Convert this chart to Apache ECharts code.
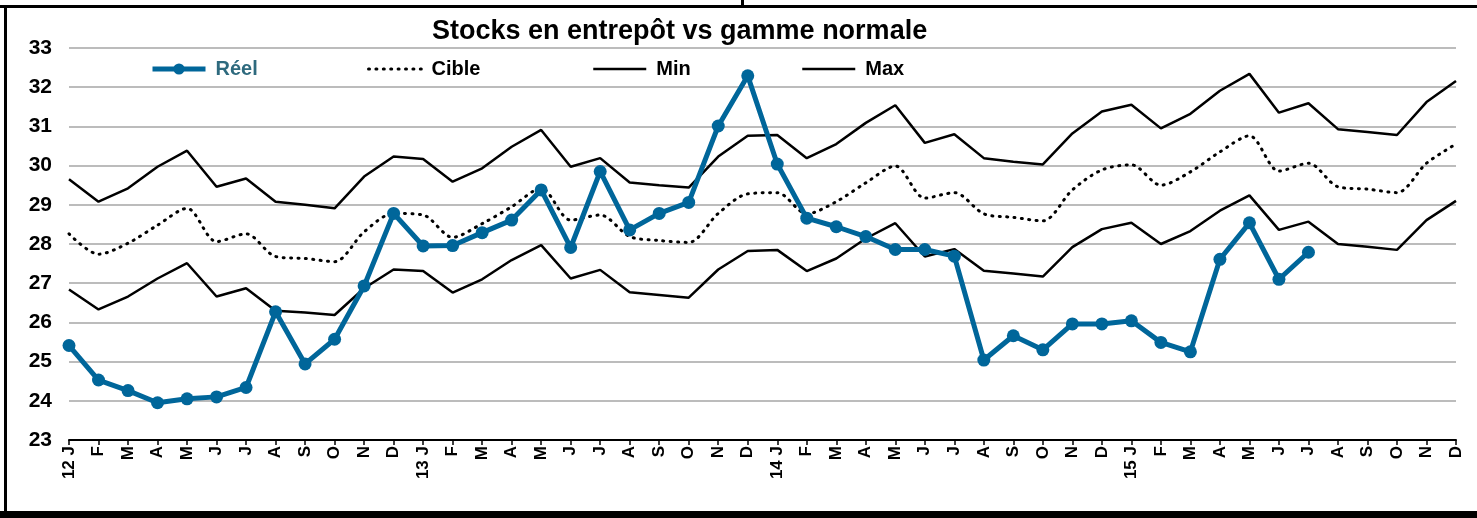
<!DOCTYPE html>
<html lang="fr">
<head>
    <meta charset="UTF-8">
    <title>Stocks en entrepôt vs gamme normale</title>
    <script src="https://cdn.jsdelivr.net/npm/echarts@6/dist/echarts.min.js"></script>
    <style>
        html, body { margin: 0; padding: 0; background: #fff; }
        #chart { width: 1477px; height: 518px; }
    </style>
</head>
<body>
    <div id="chart"></div>

    <script>
        const months = ['12 J', 'F', 'M', 'A', 'M', 'J', 'J', 'A', 'S', 'O', 'N', 'D',
                        '13 J', 'F', 'M', 'A', 'M', 'J', 'J', 'A', 'S', 'O', 'N', 'D',
                        '14 J', 'F', 'M', 'A', 'M', 'J', 'J', 'A', 'S', 'O', 'N', 'D',
                        '15 J', 'F', 'M', 'A', 'M', 'J', 'J', 'A', 'S', 'O', 'N', 'D'];

        const reel = [25.41, 24.53, 24.26, 23.95, 24.05, 24.10, 24.34, 26.27, 24.94, 25.57, 26.93, 28.78,
                      27.95, 27.96, 28.29, 28.61, 29.38, 27.91, 29.85, 28.36, 28.78, 29.06, 31.01, 32.29,
                      30.04, 28.66, 28.44, 28.19, 27.86, 27.86, 27.69, 25.04, 25.66, 25.30, 25.96, 25.96,
                      26.04, 25.49, 25.25, 27.61, 28.54, 27.10, 27.79, null, null, null, null, null];

        const cible = [28.26, 27.74, 28.02, 28.48, 28.91, 28.06, 28.26, 27.68, 27.63, 27.55, 28.31, 28.78,
                       28.74, 28.17, 28.52, 28.95, 29.42, 28.61, 28.74, 28.19, 28.09, 28.04, 28.78, 29.28,
                       29.31, 28.77, 29.08, 29.56, 29.99, 29.17, 29.31, 28.77, 28.68, 28.59, 29.38, 29.89,
                       30.02, 29.50, 29.84, 30.35, 30.76, 29.86, 30.06, 29.46, 29.40, 29.31, 30.06, 30.55];

        const minVals = [26.84, 26.33, 26.66, 27.12, 27.51, 26.66, 26.87, 26.30, 26.25, 26.19, 26.87, 27.35,
                         27.31, 26.76, 27.10, 27.59, 27.97, 27.12, 27.34, 26.77, 26.70, 26.63, 27.35, 27.82,
                         27.85, 27.31, 27.63, 28.14, 28.53, 27.68, 27.87, 27.32, 27.25, 27.17, 27.92, 28.38,
                         28.54, 28.00, 28.33, 28.85, 29.24, 28.36, 28.57, 28.00, 27.93, 27.85, 28.61, 29.10];

        const maxVals = [29.65, 29.08, 29.42, 29.97, 30.38, 29.46, 29.67, 29.08, 29.00, 28.91, 29.72, 30.23,
                         30.17, 29.59, 29.93, 30.48, 30.91, 29.97, 30.19, 29.57, 29.50, 29.44, 30.23, 30.76,
                         30.78, 30.19, 30.55, 31.09, 31.54, 30.58, 30.80, 30.19, 30.10, 30.03, 30.82, 31.38,
                         31.55, 30.95, 31.32, 31.91, 32.34, 31.35, 31.59, 30.93, 30.86, 30.78, 31.62, 32.16];

        const font = "'Liberation Sans', Arial, sans-serif";

        // one legend per item so each can sit where the original puts it
        function legendAt(name, left, color, lineWidth, hideSymbol) {
            return {
                data: [hideSymbol ? { name: name, itemStyle: { opacity: 0 } } : name],
                left: left,
                top: 54,
                itemWidth: 53,
                itemHeight: 14,
                lineStyle: { width: lineWidth },
                textStyle: {
                    fontFamily: font, fontSize: 20, fontWeight: 'bold', color: color,
                    padding: [0, 0, 0, 5]
                }
            };
        }

        const chart = echarts.init(document.getElementById('chart'));

        const option = {
            backgroundColor: '#fff',
            animation: false,
            title: {
                text: 'Stocks en entrepôt vs gamme normale',
                left: 427,
                top: 13,
                textStyle: { fontFamily: font, fontSize: 27, fontWeight: 'bold', color: '#000' }
            },
            legend: [
                legendAt('Réel', 145, '#2e6a7e', 5, false),
                legendAt('Cible', 362, '#000', 3, true),
                legendAt('Min', 587, '#000', 2.5, true),
                legendAt('Max', 796, '#000', 2.5, true)
            ],
            grid: { left: 69, right: 21, top: 48, bottom: 78 },
            xAxis: {
                type: 'category',
                data: months,
                boundaryGap: false,
                axisLine: { lineStyle: { color: '#000', width: 2 } },
                axisTick: { show: true, length: 5, alignWithLabel: true, lineStyle: { color: '#000', width: 1.5 } },
                axisLabel: {
                    rotate: 90, interval: 0, margin: 6,
                    fontFamily: font, fontSize: 17, fontWeight: 'bold', color: '#000'
                }
            },
            yAxis: {
                type: 'value',
                min: 23,
                max: 33,
                interval: 1,
                axisLine: { show: false },
                axisTick: { show: false },
                axisLabel: { margin: 17, fontFamily: font, fontSize: 21, fontWeight: 'bold', color: '#000' },
                splitLine: { lineStyle: { color: '#a6a6a6', width: 1.5 } }
            },
            series: [
                {
                    name: 'Max', type: 'line', data: maxVals, symbol: 'none',
                    lineStyle: { color: '#000', width: 2.5 }, itemStyle: { color: '#000' }
                },
                {
                    name: 'Min', type: 'line', data: minVals, symbol: 'none',
                    lineStyle: { color: '#000', width: 2.5 }, itemStyle: { color: '#000' }
                },
                {
                    name: 'Cible', type: 'line', data: cible, symbol: 'none', smooth: 0.3,
                    lineStyle: { color: '#000', width: 3, type: [1, 6.4], cap: 'round' },
                    itemStyle: { color: '#000' }
                },
                {
                    name: 'Réel', type: 'line', data: reel, symbol: 'circle', symbolSize: 13,
                    lineStyle: { color: '#00669a', width: 5 }, itemStyle: { color: '#00669a' },
                    z: 5
                }
            ],
            graphic: [
                { type: 'rect', shape: { x: 0, y: 5, width: 1477, height: 3 }, style: { fill: '#000' } },
                { type: 'rect', shape: { x: 741, y: 0, width: 3, height: 6 }, style: { fill: '#000' } },
                { type: 'rect', shape: { x: 4, y: 5, width: 3, height: 510 }, style: { fill: '#000' } },
                { type: 'rect', shape: { x: 0, y: 511, width: 1477, height: 7 }, style: { fill: '#000' } }
            ]
        };

        chart.setOption(option);
    </script>
</body>
</html>
